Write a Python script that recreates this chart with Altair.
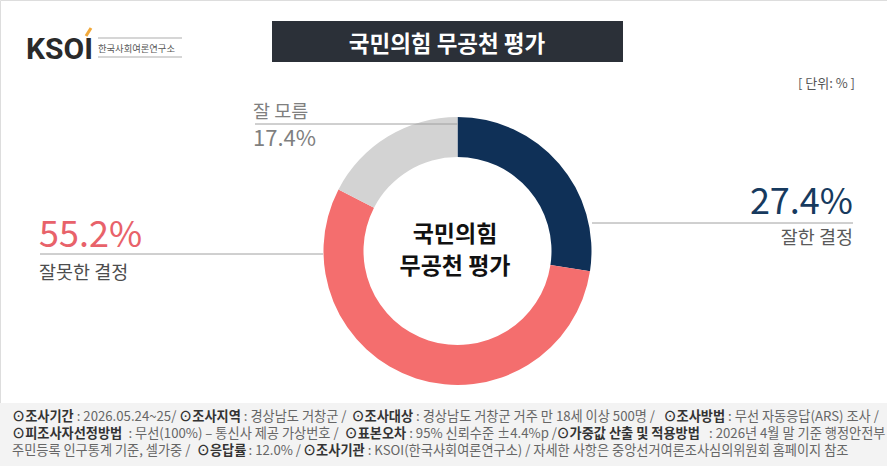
import altair as alt
import pandas as pd

# ---- data ----
categories = ["잘한 결정", "잘못한 결정", "잘 모름"]
values = [27.4, 55.2, 17.4]
order = [1, 2, 3]
colors = ["#0f3057", "#f46e6e", "#d3d3d3"]

title_text = "국민의힘 무공천 평가"
center_lines = ["국민의힘", "무공천 평가"]
unit_text = "[ 단위: % ]"

footer_lines = [
    [("⊙조사기간", True), (" : 2026.05.24~25/ ", False), ("⊙조사지역", True),
     (" : 경상남도 거창군 / ", False), ("⊙조사대상", True),
     (" : 경상남도 거창군 거주 만 18세 이상 500명 / ", False), ("⊙조사방법", True),
     (" : 무선 자동응답(ARS) 조사 /", False)],
    [("⊙피조사자선정방법", True), (" : 무선(100%) – 통신사 제공 가상번호 / ", False),
     ("⊙표본오차", True), (" : 95% 신뢰수준 ±4.4%p / ", False),
     ("⊙가중값 산출 및 적용방법", True), (" : 2026년 4월 말 기준 행정안전부", False)],
    [("주민등록 인구통계 기준, 셀가중 / ", False), ("⊙응답률", True), (" : 12.0% / ", False),
     ("⊙조사기관", True), (" : KSOI(한국사회여론연구소) / 자세한 사항은 중앙선거여론조사심의위원회 홈페이지 참조", False)],
]
footer_y = [421, 438, 455]
FOOT_X0 = 12
FOOT_LINE1_END = 880

FONT = "Noto Sans CJK KR"
W, H = 887, 466
CX, CY = 457.5, 251


def em_width(s, bold=False):
    w = 0.0
    for ch in s:
        o = ord(ch)
        if 0xAC00 <= o <= 0xD7A3:
            w += 0.98 if bold else 0.93
        elif ch == "⊙":
            w += 0.72
        elif ch == " ":
            w += 0.26
        elif ch.isdigit():
            w += 0.553
        elif ch in ".:,":
            w += 0.25
        elif ch in "()":
            w += 0.31
        elif ch == "/":
            w += 0.35
        elif ch == "%":
            w += 0.83
        elif ch == "±":
            w += 0.9
        elif ch in "~–":
            w += 0.6
        elif ch == "I":
            w += 0.26
        elif ch.isupper():
            w += 0.6
        else:
            w += 0.5
    return w


line1_em = sum(em_width(s, b) for s, b in footer_lines[0])
FOOT_SIZE = min(13.5, max(12.0, (FOOT_LINE1_END - FOOT_X0) / line1_em))

df = pd.DataFrame({"cat": categories, "val": values, "ord": order})
one = pd.DataFrame({"a": [0]})


def txt(text, x, y, size, color, align="left", weight="normal", baseline="alphabetic", font=FONT):
    return alt.Chart(one).mark_text(
        text=text, align=align, baseline=baseline, fontSize=size, color=color,
        fontWeight=weight, font=font
    ).encode(x=alt.value(x), y=alt.value(y))


def rule(x1, x2, y1, y2, color, width=1):
    return alt.Chart(one).mark_rule(color=color, strokeWidth=width).encode(
        x=alt.value(x1), x2=alt.value(x2), y=alt.value(y1), y2=alt.value(y2))


def rect(x1, x2, y1, y2, color):
    return alt.Chart(one).mark_rect(color=color).encode(
        x=alt.value(x1), x2=alt.value(x2), y=alt.value(y1), y2=alt.value(y2))


layers = []

# footer background
layers.append(rect(0, W, 403, H, "#f3f3f3"))

# title box
layers.append(rect(272, 623, 21, 62, "#2b3038"))
layers.append(txt(title_text, 447, 52, 22.5, "#ffffff", align="center", weight="bold"))

# logo
layers.append(txt("KSOI", 26, 59, 30, "#2a2a2a", weight="bold", font="Roboto"))
layers.append(rule(86, 91, 36, 28, "#f2a93b", 3))
layers.append(rule(98, 182, 38, 38, "#c8c8c8", 1.5))
layers.append(rule(98, 182, 57, 57, "#c8c8c8", 1.5))
layers.append(txt("한국사회여론연구소", 98, 52, 9.3, "#555555"))

# unit
layers.append(txt(unit_text, 855, 88, 13, "#555555", align="right"))

# donut
donut = alt.Chart(df).mark_arc(radius=134, radius2=94, stroke=None).encode(
    theta=alt.Theta("val:Q", stack=True),
    order=alt.Order("ord:Q"),
    color=alt.Color("cat:N", scale=alt.Scale(domain=categories, range=colors), legend=None),
    x=alt.value(CX), y=alt.value(CY),
)
layers.append(donut)

# leader lines
layers.append(rule(255, CX, 124, 124, "#a0a0a0"))
layers.append(rule(592, 853, 223, 223, "#a0a0a0"))
layers.append(rule(40, 323, 254, 254, "#a0a0a0"))

# labels
layers.append(txt("잘 모름", 253, 118, 18.5, "#7f7f7f"))
layers.append(txt(f"{values[2]}%", 253, 146, 22, "#7f7f7f"))
layers.append(txt(f"{values[1]}%", 39, 247, 36, "#e8626a"))
layers.append(txt("잘못한 결정", 39, 279, 18.5, "#4d4d4d"))
layers.append(txt(f"{values[0]}%", 853, 214, 36, "#173a5e", align="right"))
layers.append(txt("잘한 결정", 853, 244, 18.5, "#5a5a5a", align="right"))

# center text
layers.append(txt(center_lines[0], 455, 242, 23, "#111111", align="center", weight="bold"))
layers.append(txt(center_lines[1], 455, 274, 23, "#111111", align="center", weight="bold"))

# footer text, segments placed one after another
for segs, y in zip(footer_lines, footer_y):
    x = FOOT_X0
    for s, b in segs:
        lead = len(s) - len(s.lstrip(" "))
        xs = x + em_width(" " * lead) * FOOT_SIZE
        layers.append(txt(s.strip(" "), xs, y, FOOT_SIZE, "#333333" if b else "#666666",
                          weight="bold" if b else "normal"))
        x += em_width(s, b) * FOOT_SIZE

chart = alt.layer(*layers).properties(
    width=W, height=H, padding=0, autosize=alt.AutoSizeParams(type="none")
).configure_view(stroke=None).configure(background="#ffffff")

chart.save("out.html", embed_options={"renderer": "svg", "actions": False})
